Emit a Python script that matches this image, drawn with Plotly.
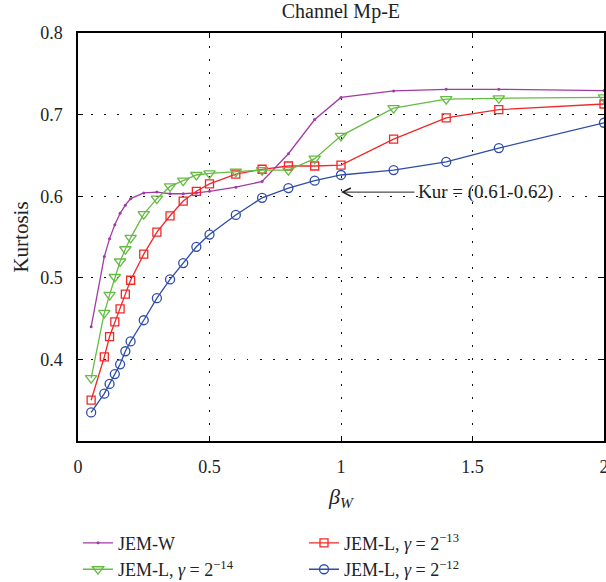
import plotly.graph_objects as go

beta_w = [0.05, 0.1, 0.12, 0.14, 0.16, 0.18, 0.2, 0.25, 0.3, 0.35, 0.4, 0.45, 0.5,
          0.6, 0.7, 0.8, 0.9, 1.0, 1.2, 1.4, 1.6, 2.0]

jem_w = [0.440, 0.526, 0.548, 0.565, 0.579, 0.589, 0.597, 0.604, 0.605, 0.603, 0.603,
         0.604, 0.606, 0.611, 0.618, 0.652, 0.694, 0.721, 0.729, 0.731, 0.731, 0.7295]
jem_l_14 = [0.377, 0.457, 0.479, 0.501, 0.520, 0.535, 0.549, 0.578, 0.597, 0.612, 0.619,
            0.626, 0.628, 0.630, 0.632, 0.632, 0.646, 0.674, 0.708, 0.719, 0.720, 0.721]
jem_l_13 = [0.350, 0.403, 0.428, 0.446, 0.462, 0.480, 0.497, 0.529, 0.556, 0.576, 0.594,
            0.606, 0.615, 0.627, 0.633, 0.637, 0.637, 0.638, 0.670, 0.696, 0.706, 0.713]
jem_l_12 = [0.335, 0.358, 0.370, 0.382, 0.394, 0.410, 0.422, 0.448, 0.475, 0.498, 0.518,
            0.538, 0.553, 0.577, 0.598, 0.610, 0.619, 0.626, 0.632, 0.642, 0.659, 0.690]

x_ticks = [0, 0.5, 1, 1.5, 2]
x_tick_labels = ["0", "0.5", "1", "1.5", "2"]
y_ticks = [0.4, 0.5, 0.6, 0.7, 0.8]
y_tick_labels = ["0.4", "0.5", "0.6", "0.7", "0.8"]

FONT = "Liberation Serif"
PURPLE = "#A23AA6"
GREEN = "#66BB44"
RED = "#F02828"
BLUE = "#2E4DAA"
TEXT = "#222222"

fig = go.Figure()
fig.add_trace(go.Scatter(x=beta_w, y=jem_w, mode="lines+markers", name="JEM-W",
                         line=dict(color=PURPLE, width=1.3),
                         marker=dict(symbol="circle", size=3, color=PURPLE)))
fig.add_trace(go.Scatter(x=beta_w, y=jem_l_13, mode="lines+markers",
                         name="JEM-L, <i>γ</i> = 2<sup>−13</sup>",
                         line=dict(color=RED, width=1.3),
                         marker=dict(symbol="square-open", size=8, color=RED, line=dict(width=1.3))))
fig.add_trace(go.Scatter(x=beta_w, y=jem_l_14, mode="lines+markers",
                         name="JEM-L, <i>γ</i> = 2<sup>−14</sup>",
                         line=dict(color=GREEN, width=1.3),
                         marker=dict(symbol="triangle-down-open", size=10, color=GREEN, line=dict(width=1.3))))
fig.add_trace(go.Scatter(x=beta_w, y=jem_l_12, mode="lines+markers",
                         name="JEM-L, <i>γ</i> = 2<sup>−12</sup>",
                         line=dict(color=BLUE, width=1.3),
                         marker=dict(symbol="circle-open", size=9, color=BLUE, line=dict(width=1.3))))

# arrow annotation
fig.add_annotation(x=1.0, y=0.605, ax=1.285, ay=0.605, axref="x", ayref="y",
                   xref="x", yref="y", text="", showarrow=True,
                   arrowhead=5, arrowsize=1.6, arrowwidth=1, arrowcolor=TEXT)
fig.add_annotation(x=1.285, y=0.605, xref="x", yref="y", text="Kur = (0.61-0.62)",
                   showarrow=False, xanchor="left", yanchor="middle",
                   font=dict(family=FONT, size=19, color=TEXT))

axis_common = dict(showline=True, linecolor="black", linewidth=1.5, mirror="ticks",
                   ticks="inside", ticklen=5, tickcolor="black", tickwidth=1,
                   showgrid=True, gridcolor="#111111", gridwidth=1.2, griddash="1.5px,11.5px",
                   zeroline=False, ticklabeloverflow="allow",
                   tickfont=dict(family=FONT, size=18, color=TEXT))

fig.update_xaxes(range=[0, 2], tickvals=x_ticks, ticktext=x_tick_labels,
                 ticklabelstandoff=9,
                 title=dict(text="<i>β</i><sub><i>W</i></sub>", standoff=12,
                            font=dict(family=FONT, size=22, color=TEXT)),
                 **axis_common)
fig.update_yaxes(range=[0.3, 0.8], tickvals=y_ticks, ticktext=y_tick_labels,
                 ticklabelstandoff=10,
                 title=dict(text="Kurtosis", standoff=6,
                            font=dict(family=FONT, size=21, color=TEXT)),
                 **axis_common)

fig.update_layout(
    width=606, height=582,
    margin=dict(l=78, r=2, t=33, b=141, autoexpand=False),
    paper_bgcolor="white", plot_bgcolor="white",
    title=dict(text="Channel Mp-E", x=0.5625, xanchor="center", y=0.993, yanchor="top",
               font=dict(family=FONT, size=20, color=TEXT)),
    font=dict(family=FONT, color=TEXT),
    showlegend=True,
    legend=dict(orientation="h", x=0.0, xanchor="left", y=-0.205, yanchor="top",
                entrywidth=181, entrywidthmode="pixels",
                font=dict(family=FONT, size=18, color=TEXT),
                bgcolor="rgba(0,0,0,0)", tracegroupgap=0),
)

fig.write_html("out.html")
